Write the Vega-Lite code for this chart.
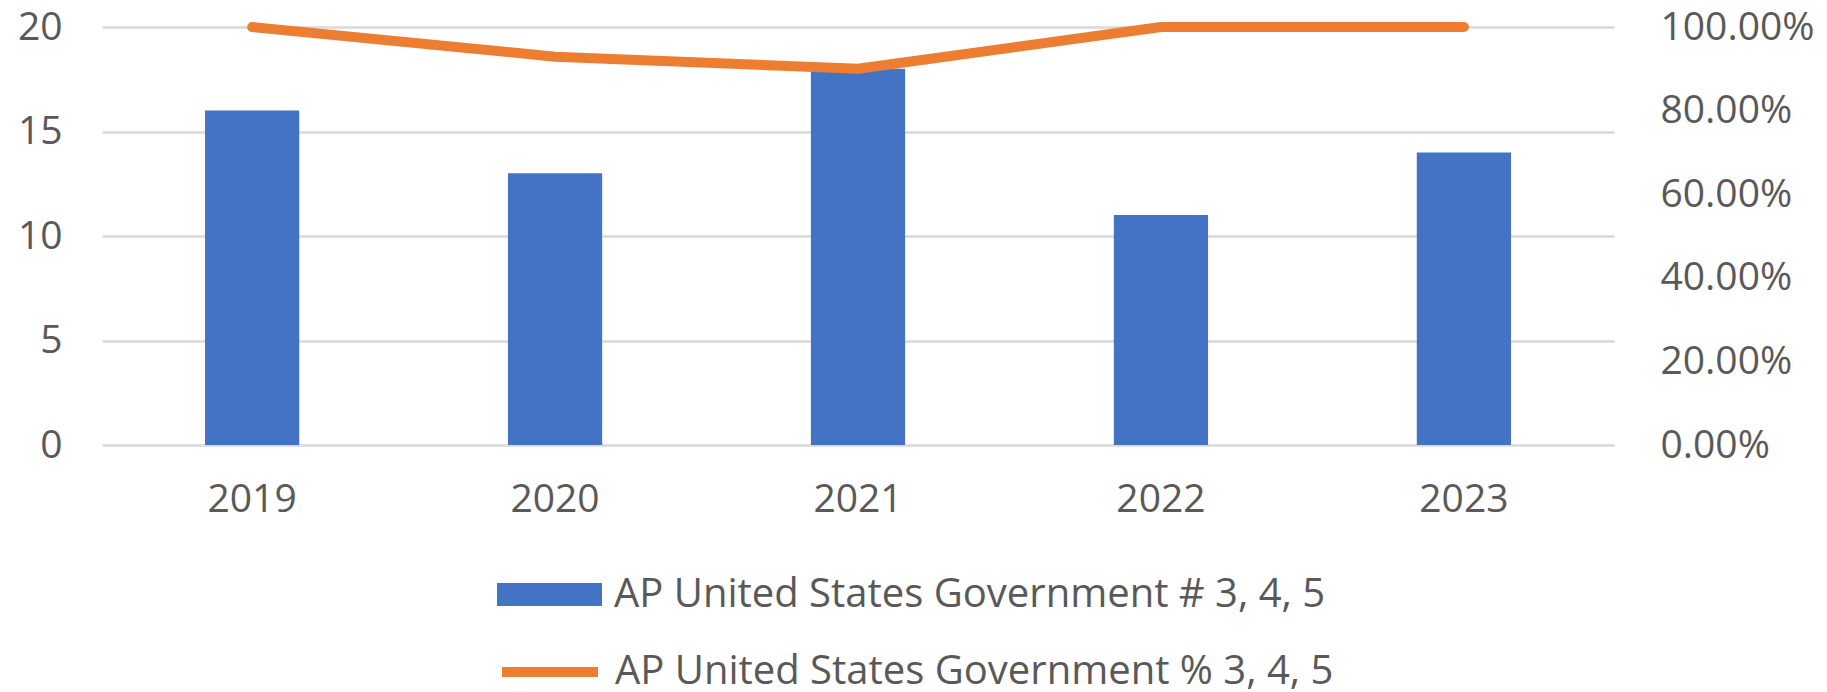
{
  "$schema": "https://vega.github.io/schema/vega-lite/v6.json",
  "width": 1512,
  "height": 418,
  "autosize": {"type": "none"},
  "padding": {"left": 102, "top": 27, "right": 213, "bottom": 247},
  "background": "white",
  "config": {"view": {"stroke": null}, "font": "Open Sans"},
  "data": {"values": [
    {"year": "2019", "count": 16, "pct": 1.0},
    {"year": "2020", "count": 13, "pct": 0.929},
    {"year": "2021", "count": 18, "pct": 0.9},
    {"year": "2022", "count": 11, "pct": 1.0},
    {"year": "2023", "count": 14, "pct": 1.0}
  ]},
  "encoding": {
    "x": {"field": "year", "type": "ordinal",
      "scale": {"paddingInner": 0.689, "paddingOuter": 0.34},
      "axis": {"title": null, "labelAngle": 0, "ticks": false, "domain": false, "labelFontSize": 39, "labelColor": "#595959", "labelPadding": 35, "labelFont": "Open Sans"}}
  },
  "layer": [
    {
      "mark": {"type": "bar", "color": "#4472C4"},
      "encoding": {
        "y": {"field": "count", "type": "quantitative",
          "scale": {"domain": [0, 20], "nice": false},
          "axis": {"title": null, "values": [0, 5, 10, 15, 20], "grid": true, "gridColor": "#D9D9D9", "gridWidth": 2.5, "domain": false, "ticks": false, "labelFontSize": 39, "labelColor": "#595959", "labelPadding": 40, "labelFont": "Open Sans"}},
        "color": {"datum": "AP United States Government # 3, 4, 5", "type": "nominal",
          "scale": {"range": ["#4472C4"]},
          "legend": {"title": null, "orient": "none", "legendX": 395, "legendY": 515, "padding": 0,
            "symbolType": "M-1,-0.219H1V0.219H-1Z", "symbolSize": 11025, "symbolStrokeWidth": 0,
            "labelFontSize": 40, "labelColor": "#595959", "labelFont": "Open Sans", "labelOffset": 12, "labelLimit": 0}}
      }
    },
    {
      "mark": {"type": "line", "color": "#ED7D31", "strokeWidth": 10, "strokeCap": "round", "strokeJoin": "round"},
      "encoding": {
        "y": {"field": "pct", "type": "quantitative",
          "scale": {"domain": [0, 1], "nice": false},
          "axis": {"title": null, "orient": "right", "format": ".2%", "values": [0, 0.2, 0.4, 0.6, 0.8, 1], "grid": false, "domain": false, "ticks": false, "labelFontSize": 39, "labelColor": "#595959", "labelPadding": 46, "labelFont": "Open Sans"}},
        "color": {"datum": "AP United States Government % 3, 4, 5", "type": "nominal",
          "scale": {"range": ["#ED7D31"]},
          "legend": {"title": null, "orient": "none", "legendX": 395, "legendY": 592, "padding": 0,
            "symbolType": "stroke", "symbolSize": 9216, "symbolStrokeWidth": 10,
            "labelFontSize": 40, "labelColor": "#595959", "labelFont": "Open Sans", "labelOffset": 12, "labelLimit": 0}}
      }
    }
  ],
  "resolve": {"scale": {"y": "independent", "color": "independent"}}
}
